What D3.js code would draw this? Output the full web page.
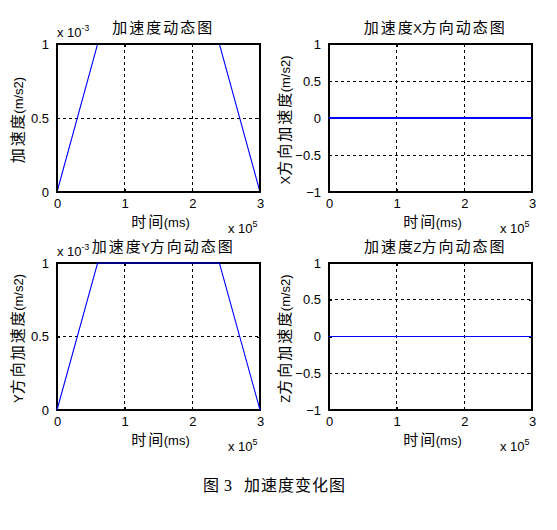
<!DOCTYPE html>
<html>
<head>
<meta charset="utf-8">
<script src="https://cdn.jsdelivr.net/npm/d3@7"></script>
<style>
  body { margin: 0; background: #fff; }
  text { font-family: "Liberation Sans", Arial, "Noto Sans CJK SC", sans-serif; fill: #000; white-space: pre; }
</style>
</head>
<body>
<svg id="chart" width="557" height="530"></svg>
<script>
// time in ms (axis scaled by 1e5)
const timeX = [0, 0.6, 2.4, 3];
// acceleration values (axis scaled by 1e-3)
const accTotal = [0, 1, 1, 0];
const accX = [0, 0, 0, 0];
const accY = [0, 1, 1, 0];
const accZ = [0, 0, 0, 0];

const xTicks = [0, 1, 2, 3];
const yTicksPos = [0, 0.5, 1];
const yTicksSym = [-1, -0.5, 0, 0.5, 1];

const titles = ["加速度动态图", "加速度X方向动态图", "加速度Y方向动态图", "加速度Z方向动态图"];
const yLabels = ["加速度(m/s2)", "X方向加速度(m/s2)", "Y方向加速度(m/s2)", "Z方向加速度(m/s2)"];
const xLabel = "时间(ms)";
const captionParts = ["图", "3", "加速度变化图"];

const svg = d3.select("#chart");

const panels = [
    {left: 57, top: 44, w: 203, h: 148, values: accTotal, ticks: yTicksPos, dom: [0, 1], expY: "-3", ylabX: -34, lineOnTop: false},
    {left: 329, top: 44, w: 203, h: 148, values: accX, ticks: yTicksSym, dom: [-1, 1], expY: null, ylabX: -39, lineOnTop: true},
    {left: 57, top: 263, w: 203, h: 147, values: accY, ticks: yTicksPos, dom: [0, 1], expY: "-3", ylabX: -34, lineOnTop: true},
    {left: 329, top: 263, w: 203, h: 147, values: accZ, ticks: yTicksSym, dom: [-1, 1], expY: null, ylabX: -39, lineOnTop: true}
];

// mixed CJK / latin text, CJK chars get wider spacing (like the SimSun look)
function mixedText(sel, str, size, spacing)
{
    sel.attr("font-size", size);
    const runs = str.match(/[\u4e00-\u9fff]+|[^\u4e00-\u9fff]+/g);
    runs.forEach(r => {
        const cjk = /[\u4e00-\u9fff]/.test(r);
        if (!cjk) {
            sel.append("tspan")
                .attr("font-family", "Liberation Sans, Arial, sans-serif")
                .attr("font-size", 13)
                .text(r);
            return;
        }
        const head = r.slice(0, -1);
        if (head) {
            sel.append("tspan")
                .attr("font-family", "Noto Sans CJK SC, sans-serif")
                .attr("letter-spacing", spacing)
                .text(head);
        }
        sel.append("tspan")
            .attr("font-family", "Noto Sans CJK SC, sans-serif")
            .attr("letter-spacing", 0.5)
            .text(r.slice(-1));
    });
    return sel;
}

function drawPanel(p, i)
{
    const g = svg.append("g").attr("transform", `translate(${p.left}, ${p.top})`);

    const xScale = d3.scaleLinear().domain([0, 3]).range([0, p.w]);
    const yScale = d3.scaleLinear().domain(p.dom).range([p.h, 0]);

    // grid
    g.selectAll(".gx").data(xTicks.slice(1, -1)).enter().append("line")
        .attr("x1", d => xScale(d)).attr("x2", d => xScale(d))
        .attr("y1", 0).attr("y2", p.h)
        .attr("stroke", "#000").attr("stroke-width", 1)
        .attr("stroke-dasharray", "3,3")
        .attr("shape-rendering", "crispEdges");
    g.selectAll(".gy").data(p.ticks.slice(1, -1)).enter().append("line")
        .attr("y1", d => yScale(d)).attr("y2", d => yScale(d))
        .attr("x1", 0).attr("x2", p.w)
        .attr("stroke", "#000").attr("stroke-width", 1)
        .attr("stroke-dasharray", "3,3")
        .attr("shape-rendering", "crispEdges");

    const line = d3.line()
        .x((d, k) => xScale(timeX[k]))
        .y(d => yScale(d));

    const flat = d3.max(p.values) === d3.min(p.values);
    const drawLine = () => g.append("path")
        .datum(p.values)
        .attr("d", line)
        .attr("fill", "none")
        .attr("stroke", "#0000ff")
        .attr("stroke-width", flat ? 1.5 : 1.1)
        .attr("shape-rendering", flat ? "crispEdges" : null);

    if (!p.lineOnTop) drawLine();

    // axes (ticks inward, MATLAB style)
    const fmt = d3.format("");
    const xAxis = d3.axisBottom(xScale).tickValues(xTicks).tickSizeInner(-3).tickSizeOuter(0).tickPadding(7).tickFormat(fmt);
    const yAxis = d3.axisLeft(yScale).tickValues(p.ticks).tickSizeInner(-3).tickSizeOuter(0).tickPadding(8).tickFormat(fmt);

    const ax = g.append("g").attr("transform", `translate(0, ${p.h})`).call(xAxis);
    const ay = g.append("g").call(yAxis);
    const axTop = g.append("g").call(d3.axisTop(xScale).tickValues(xTicks).tickSizeInner(-3).tickSizeOuter(0).tickFormat(""));
    const ayRight = g.append("g").attr("transform", `translate(${p.w}, 0)`)
        .call(d3.axisRight(yScale).tickValues(p.ticks).tickSizeInner(-3).tickSizeOuter(0).tickFormat(""));

    [ax, ay, axTop, ayRight].forEach(a => {
        a.selectAll("path").remove();
        a.selectAll("line").attr("stroke", "#000").attr("shape-rendering", "crispEdges");
        a.selectAll("text").attr("font-size", 13).attr("fill", "#000")
            .attr("font-family", "Liberation Sans, Arial, sans-serif");
    });

    g.append("rect")
        .attr("width", p.w).attr("height", p.h)
        .attr("fill", "none").attr("stroke", "#000").attr("stroke-width", 1.2)
        .attr("shape-rendering", "crispEdges");

    if (p.lineOnTop) drawLine();

    // x exponent
    const ex = g.append("text")
        .attr("x", p.w - 32).attr("y", p.h + 41)
        .attr("font-size", 13);
    ex.append("tspan").text("x 10");
    ex.append("tspan").attr("dy", -6).attr("font-size", 9).text("5");

    // y exponent
    if (p.expY) {
        const ey = g.append("text")
            .attr("x", 0).attr("y", -7)
            .attr("font-size", 13);
        ey.append("tspan").text("x 10");
        ey.append("tspan").attr("dy", -6).attr("font-size", 8.5).text(p.expY);
    }

    // title
    mixedText(g.append("text")
        .attr("x", p.w / 2 + 4).attr("y", -11)
        .attr("text-anchor", "middle"), titles[i], 15, 2);

    // x label
    mixedText(g.append("text")
        .attr("x", p.w / 2 + 2).attr("y", p.h + 35)
        .attr("text-anchor", "middle"), xLabel, 15, 2);

    // y label
    mixedText(g.append("text")
        .attr("transform", `translate(${p.ylabX}, ${p.h / 2 + 2}) rotate(-90)`)
        .attr("text-anchor", "middle"), yLabels[i], 15, 2);
}

panels.forEach(drawPanel);

// caption
const cap = svg.append("text")
    .attr("x", 203).attr("y", 491)
    .attr("font-size", 16)
    .attr("font-family", "Noto Sans CJK SC, sans-serif");
cap.append("tspan").text(captionParts[0]);
cap.append("tspan").attr("dx", 5).attr("font-family", "Liberation Serif, serif").text(captionParts[1]);
cap.append("tspan").attr("dx", 12).attr("letter-spacing", 1).text(captionParts[2]);
</script>
</body>
</html>
